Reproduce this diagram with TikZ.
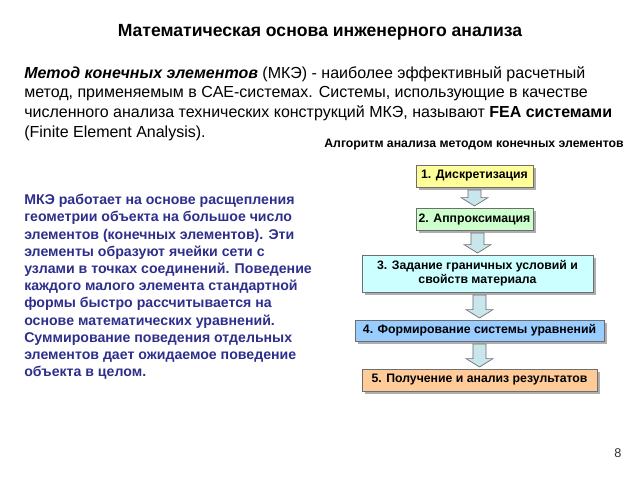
\documentclass[tikz,border=0pt]{standalone}
\usepackage{fontspec}
\setmainfont{Liberation Sans}
\usetikzlibrary{shadows,calc}
\definecolor{navytext}{RGB}{46,46,140}
\definecolor{boxline}{RGB}{110,110,110}
\definecolor{yel}{RGB}{255,255,153}
\definecolor{grn}{RGB}{204,255,204}
\definecolor{cyn}{RGB}{204,255,255}
\definecolor{blu}{RGB}{153,204,255}
\definecolor{pch}{RGB}{255,204,153}
\definecolor{arrfill}{RGB}{200,230,235}
\tikzset{
  stagebox/.style={draw=boxline, line width=0.6pt, font=\bfseries\fontsize{9.2}{10.7}\selectfont,
    inner sep=0pt, align=center, drop shadow={shadow xshift=2pt, shadow yshift=-2pt, fill=black!45, opacity=0.7}},
  blockarrow/.style={draw=boxline, fill=arrfill, line width=0.5pt},
}
\newcommand\flowarrow[2]{%
  \path[blockarrow] let \p1=(#1.south), \p2=(#2.north) in
    (\x2-4.9pt,\y1-2pt) -- (\x2+4.9pt,\y1-2pt) -- (\x2+4.9pt,\y2+7.5pt) -- (\x2+10.1pt,\y2+7.5pt)
    -- (\x2,\y2+1.2pt) -- (\x2-10.1pt,\y2+7.5pt) -- (\x2-4.9pt,\y2+7.5pt) -- cycle;}
\begin{document}
\begin{tikzpicture}[x=0.75pt,y=-0.75pt]
\useasboundingbox (0,0) rectangle (640,480);
\node[font=\bfseries\fontsize{13.2}{15}\selectfont] (title) at (320,32) {Математическая основа инженерного анализа};
\node[anchor=north west, align=left, inner sep=0pt, font=\fontsize{12}{14.8}\selectfont] (intro) at (24,66)
 {\textbf{\textit{Метод конечных элементов}} (МКЭ) - наиболее эффективный расчетный\\
 метод, применяемым в CAE-системах. Системы, использующие в качестве\\
 численного анализа технических конструкций МКЭ, называют \textbf{FEA системами}\\
 (Finite Element Analysis).};
\node[font=\bfseries\fontsize{9.2}{11}\selectfont] (algo) at (474,145) {Алгоритм анализа методом конечных элементов};
\node[anchor=north west, align=left, inner sep=0pt, text=navytext, font=\bfseries\fontsize{10.6}{12.9}\selectfont] (desc) at (24,194)
 {МКЭ работает на основе расщепления\\
 геометрии объекта на большое число\\
 элементов (конечных элементов). Эти\\
 элементы образуют ячейки сети с\\
 узлами в точках соединений. Поведение\\
 каждого малого элемента стандартной\\
 формы быстро рассчитывается на\\
 основе математических уравнений.\\
 Суммирование поведения отдельных\\
 элементов дает ожидаемое поведение\\
 объекта в целом.};
\node[stagebox, fill=yel, minimum width=117*0.75pt, minimum height=22*0.75pt] (s1) at (474.5,176) {1. Дискретизация};
\node[stagebox, fill=grn, minimum width=117*0.75pt, minimum height=22*0.75pt] (s2) at (474.5,219) {2. Аппроксимация};
\node[stagebox, fill=cyn, minimum width=231*0.75pt, minimum height=37*0.75pt] (s3) at (477.5,273.5) {3. Задание граничных условий и\\свойств материала};
\node[stagebox, fill=blu, minimum width=249*0.75pt, minimum height=21*0.75pt] (s4) at (479.5,330.5) {4. Формирование системы уравнений};
\node[stagebox, fill=pch, minimum width=235*0.75pt, minimum height=22*0.75pt] (s5) at (479.5,380) {5. Получение и анализ результатов};
\flowarrow{s1}{s2}
\flowarrow{s2}{s3}
\flowarrow{s3}{s4}
\flowarrow{s4}{s5}
\node[font=\fontsize{9.5}{11}\selectfont, text=black!80] (page) at (618,453) {8};
\end{tikzpicture}
\end{document}
